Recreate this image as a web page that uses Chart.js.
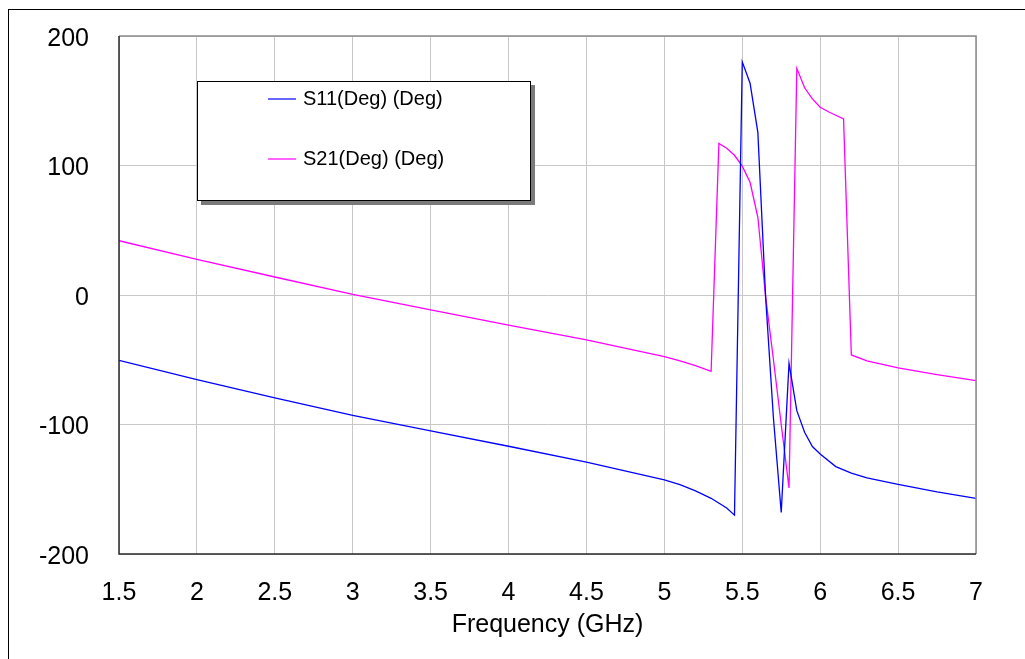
<!DOCTYPE html>
<html>
<head>
<meta charset="utf-8">
<title>S-parameter phase</title>
<script src="https://cdn.jsdelivr.net/npm/chart.js@4/dist/chart.umd.min.js"></script>
<style>
  html, body { margin: 0; padding: 0; background: #ffffff; }
  canvas { display: block; }
</style>
</head>
<body>
<canvas id="c" width="1025" height="659"></canvas>
<script>
// Frequency points (GHz) and phase values (deg) for each trace
const freqS11 = [1.5, 2, 2.5, 3, 3.5, 4, 4.5, 5, 5.1, 5.2, 5.3, 5.4, 5.45, 5.5, 5.55, 5.6, 5.65, 5.7, 5.75, 5.8, 5.85, 5.9, 5.95, 6.0, 6.1, 6.2, 6.3, 6.5, 6.75, 7];
const s11Deg  = [-50.4, -65.4, -79.5, -92.9, -105, -116.8, -129, -142.7, -146.5, -151.2, -157, -164.5, -170, 180, 163.5, 125.6, -2, -95, -168, -52.8, -89.3, -106, -117, -122.8, -132.5, -137.5, -141.3, -146.2, -152, -157];

const freqS21 = [1.5, 2, 2.5, 3, 3.5, 4, 4.5, 5, 5.1, 5.2, 5.3, 5.35, 5.4, 5.45, 5.5, 5.55, 5.6, 5.65, 5.7, 5.75, 5.8, 5.85, 5.9, 5.95, 6.0, 6.05, 6.1, 6.15, 6.2, 6.3, 6.5, 6.75, 7];
const s21Deg  = [41.9, 27.6, 13.9, 0.5, -11.4, -23.2, -34.7, -47.6, -50.8, -54.6, -59, 117, 113.3, 107.9, 99.5, 87, 60, -1.5, -50, -100, -149, 175, 160, 151.4, 145, 141.7, 138.8, 136, -46.3, -50.8, -56.2, -61.5, -66.2];

const seriesLabels = ['S11(Deg) (Deg)', 'S21(Deg) (Deg)'];
const xTicks = [1.5, 2, 2.5, 3, 3.5, 4, 4.5, 5, 5.5, 6, 6.5, 7];
const yTicks = [-200, -100, 0, 100, 200];
const xTitle = 'Frequency (GHz)';

const toPoints = (xs, ys) => xs.map((x, i) => ({ x: x, y: ys[i] }));

const FONT = 'Arial, "Liberation Sans", sans-serif';

// Outer frame, plot frame and the boxed legend with drop shadow
const decorations = {
  id: 'decorations',
  beforeDraw(chart) {
    const ctx = chart.ctx;
    ctx.save();
    ctx.fillStyle = '#ffffff';
    ctx.fillRect(0, 0, chart.width, chart.height);
    ctx.strokeStyle = '#000000';
    ctx.lineWidth = 1;
    ctx.strokeRect(8.5, 9.5, 1200, 1200);
    ctx.restore();
  },
  afterDatasetsDraw(chart) {
    const ctx = chart.ctx;
    const a = chart.chartArea;
    ctx.save();
    // plot frame
    ctx.lineWidth = 1.5;
    ctx.strokeStyle = '#8c8c8c';
    ctx.beginPath();
    ctx.moveTo(a.left, a.top);
    ctx.lineTo(a.right, a.top);
    ctx.lineTo(a.right, a.bottom);
    ctx.stroke();
    ctx.strokeStyle = '#2a2a2a';
    ctx.beginPath();
    ctx.moveTo(a.left, a.top);
    ctx.lineTo(a.left, a.bottom);
    ctx.lineTo(a.right, a.bottom);
    ctx.stroke();

    // legend box
    const bx = 197, by = 81, bw = 334, bh = 120;
    ctx.fillStyle = '#7a7a7a';
    ctx.fillRect(bx + 4, by + 4, bw, bh);
    ctx.fillStyle = '#ffffff';
    ctx.fillRect(bx, by, bw, bh);
    ctx.strokeStyle = '#000000';
    ctx.lineWidth = 1;
    ctx.strokeRect(bx + 0.5, by + 0.5, bw - 1, bh - 1);

    const rows = [99, 159];
    chart.data.datasets.forEach((ds, i) => {
      const y = rows[i];
      ctx.strokeStyle = ds.borderColor;
      ctx.lineWidth = 1.2;
      ctx.beginPath();
      ctx.moveTo(268, y);
      ctx.lineTo(296, y);
      ctx.stroke();
      ctx.fillStyle = '#000000';
      ctx.font = '20px ' + FONT;
      ctx.textBaseline = 'middle';
      ctx.textAlign = 'left';
      ctx.fillText(ds.label, 303, y);
    });
    ctx.restore();
  }
};

new Chart(document.getElementById('c'), {
  type: 'line',
  data: {
    datasets: [
      { label: seriesLabels[0], data: toPoints(freqS11, s11Deg), borderColor: '#0000ff', borderWidth: 1.3, pointRadius: 0, tension: 0, fill: false },
      { label: seriesLabels[1], data: toPoints(freqS21, s21Deg), borderColor: '#ff00ff', borderWidth: 1.3, pointRadius: 0, tension: 0, fill: false }
    ]
  },
  options: {
    responsive: false,
    animation: false,
    events: [],
    layout: { padding: { left: 0, right: 49, top: 36, bottom: 0 } },
    plugins: { legend: { display: false }, tooltip: { enabled: false } },
    scales: {
      x: {
        type: 'linear',
        min: 1.5,
        max: 7,
        afterBuildTicks(scale) { scale.ticks = xTicks.map(v => ({ value: v })); },
        afterFit(scale) {
          scale.height = 105;
          scale.paddingLeft = 0; scale.paddingRight = 0;
          scale.paddingTop = 0; scale.paddingBottom = 0;
        },
        ticks: {
          color: '#000000',
          font: { family: FONT, size: 25 },
          padding: 24,
          maxRotation: 0,
          autoSkip: false,
          callback: v => String(v)
        },
        grid: { color: '#c8c8c8', lineWidth: 1, drawTicks: false },
        border: { display: false },
        title: {
          display: true,
          text: xTitle,
          color: '#000000',
          font: { family: FONT, size: 25, lineHeight: 1.2 },
          padding: { top: 0, bottom: 19 }
        }
      },
      y: {
        type: 'linear',
        min: -200,
        max: 200,
        afterBuildTicks(scale) { scale.ticks = yTicks.map(v => ({ value: v })); },
        afterFit(scale) {
          scale.width = 119;
          scale.paddingLeft = 0; scale.paddingRight = 0;
          scale.paddingTop = 0; scale.paddingBottom = 0;
        },
        ticks: {
          color: '#000000',
          font: { family: FONT, size: 25 },
          padding: 30,
          labelOffset: 3,
          callback: v => String(v)
        },
        grid: { color: '#c8c8c8', lineWidth: 1, drawTicks: false },
        border: { display: false }
      }
    }
  },
  plugins: [decorations]
});
</script>
</body>
</html>
